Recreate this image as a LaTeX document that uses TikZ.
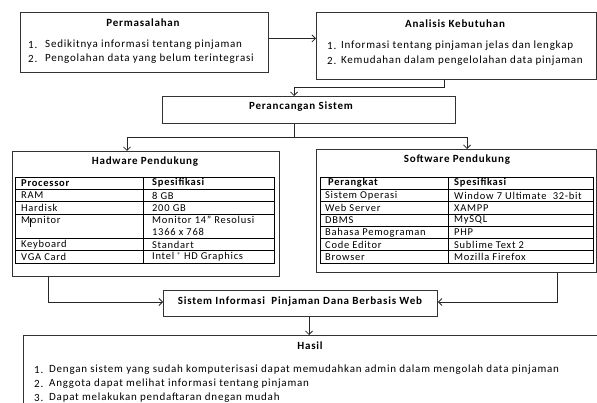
\documentclass[tikz,border=0pt]{standalone}
\usepackage{fontspec}
\setmainfont{Carlito}[LetterSpace=7]
\usetikzlibrary{arrows.meta}
\begin{document}
\begin{tikzpicture}[x=1pt,y=-1pt,
  panel/.style={draw=black!80,line width=0.9pt,rectangle,inner sep=0pt,anchor=north west},
  link/.style={draw=black!85,line width=0.8pt,-{Straight Barb[length=3.5pt,width=7pt]}},
  plain/.style={draw=black!85,line width=0.8pt},
  head/.style={font=\bfseries\fontsize{11}{13}\selectfont,inner sep=0pt},
  txt/.style={font=\fontsize{11}{13}\selectfont,inner sep=0pt,anchor=west},
  cell/.style={font=\fontsize{10.5}{13}\selectfont,inner sep=0pt,anchor=west},
  hcell/.style={font=\bfseries\fontsize{10.5}{13}\selectfont,inner sep=0pt,anchor=west},
  grid/.style={draw=black,line width=0.7pt}]
\useasboundingbox (0,0) rectangle (597,403);
\clip (0,0) rectangle (597,403);

% ---------- boxes ----------
\node[panel,minimum width=248pt,minimum height=60pt] (perm) at (20,12) {};
\node[panel,minimum width=280pt,minimum height=67pt] (anal) at (316,12) {};
\node[panel,minimum width=293pt,minimum height=27pt] (peran) at (162,96) {};
\node[panel,minimum width=267pt,minimum height=125pt] (hw) at (12,151) {};
\node[panel,minimum width=280pt,minimum height=123pt] (sw) at (316,149) {};
\node[panel,minimum width=274pt,minimum height=26pt] (sis) at (163,290) {};
\node[panel,minimum width=580pt,minimum height=80pt] (hasil) at (23,335) {};

% ---------- Permasalahan ----------
\node[head] (permT) at (143,23) {Permasalahan};
\node[txt] (permN1) at (28,45) {1.};
\node[txt] (permI1) at (45,45) {Sedikitnya informasi tentang pinjaman};
\node[txt] (permN2) at (28,59) {2.};
\node[txt] (permI2) at (45,59) {Pengolahan data yang belum terintegrasi};

% ---------- Analisis Kebutuhan ----------
\node[head] (analT) at (455,24) {Analisis Kebutuhan};
\node[txt] (analN1) at (327,46) {1.};
\node[txt] (analI1) at (341,46) {Informasi tentang pinjaman jelas dan lengkap};
\node[txt] (analN2) at (327,61) {2.};
\node[txt] (analI2) at (341,61) {Kemudahan dalam pengelolahan data pinjaman};

% ---------- Perancangan ----------
\node[head] (peranT) at (301,107) {Perancangan Sistem};

% ---------- Hardware ----------
\node[head] (hwT) at (145,162) {Hadware Pendukung};
\draw[grid] (15,177) rectangle (274,263);
\draw[grid] (143,177) -- (143,263);
\foreach \yy in {189.3,201.6,213.9,238.4,250.7} \draw[grid] (15,\yy) -- (274,\yy);
\node[hcell] (hwH1) at (21,183) {Processor};
\node[hcell] (hwH2) at (152,183) {Spesifikasi};
\node[cell] (hwA1) at (21,195.5) {RAM};
\node[cell] (hwA2) at (152,195.5) {8 GB};
\node[cell] (hwB1) at (21,207.8) {Hardisk};
\node[cell] (hwB2) at (152,207.8) {200 GB};
\node[cell] (hwC1) at (21,220.1) {Monitor};
\node[cell] (hwC2) at (152,220.1) {Monitor 14” Resolusi};
\node[cell] (hwC3) at (152,232.4) {1366 x 768};
\node[cell] (hwD1) at (21,244.6) {Keyboard};
\node[cell] (hwD2) at (152,244.6) {Standart};
\node[cell] (hwE1) at (21,256.9) {VGA Card};
\node[cell] (hwE2) at (152,256.9) {Intel \raisebox{2.5pt}{\fontsize{7}{7}\selectfont ®} HD Graphics};
\draw[black,line width=0.9pt] (30,218) -- (30,227);

% ---------- Software ----------
\node[head] (swT) at (457,160) {Software Pendukung};
\draw[grid] (320,177) rectangle (593,263);
\draw[grid] (448,177) -- (448,263);
\foreach \yy in {189.3,201.6,213.9,226.1,238.4,250.7} \draw[grid] (320,\yy) -- (593,\yy);
\node[hcell] (swH1) at (328,183) {Perangkat};
\node[hcell] (swH2) at (454,183) {Spesifikasi};
\node[cell] (swA1) at (325,195.5) {Sistem Operasi};
\node[cell] (swA2) at (454,195.5) {Window 7 Ultimate\ \ 32-bit};
\node[cell] (swB1) at (325,207.8) {Web Server};
\node[cell] (swB2) at (454,207.8) {XAMPP};
\node[cell] (swC1) at (325,220.1) {DBMS};
\node[cell] (swC2) at (454,220.1) {MySQL};
\node[cell] (swD1) at (325,232.4) {Bahasa Pemograman};
\node[cell] (swD2) at (454,232.4) {PHP};
\node[cell] (swE1) at (325,244.6) {Code Editor};
\node[cell] (swE2) at (454,244.6) {Sublime Text 2};
\node[cell] (swF1) at (325,256.9) {Browser};
\node[cell] (swF2) at (454,256.9) {Mozilla Firefox};

% ---------- Sistem ----------
\node[head] (sisT) at (300,302) {Sistem Informasi\ \ Pinjaman Dana Berbasis Web};

% ---------- Hasil ----------
\node[head] (hasilT) at (310,346) {Hasil};
\node[txt] (hasN1) at (34,370) {1.};
\node[txt] (hasI1) at (49,370) {Dengan sistem yang sudah komputerisasi dapat memudahkan admin dalam mengolah data pinjaman};
\node[txt] (hasN2) at (34,384) {2.};
\node[txt] (hasI2) at (49,384) {Anggota dapat melihat informasi tentang pinjaman};
\node[txt] (hasN3) at (34,398) {3.};
\node[txt] (hasI3) at (49,398) {Dapat melakukan pendaftaran dnegan mudah};

% ---------- connectors ----------
\coordinate (k1) at (444,87);
\coordinate (k2) at (294,87);
\coordinate (k3) at (294,137);
\coordinate (k4) at (127,137);
\coordinate (k5) at (467,137);
\coordinate (k6) at (48,302);
\coordinate (k7) at (557,302);
\coordinate (k8) at (309,316);

\draw[link] ([yshift=4pt]perm.east) -- ([yshift=4pt]perm.east -| anal.west);
\draw[link] (k1 |- anal.south) -- (k1) -- (k2) -- (k2 |- peran.north);
\draw[plain] (k3 |- peran.south) -- (k3);
\draw[link] (k3) -- (k4) -- (k4 |- hw.north);
\draw[link] (k3) -- (k5) -- (k5 |- sw.north);
\draw[link] (k6 |- hw.south) -- (k6) -- (k6 -| sis.west);
\draw[link] (k7 |- sw.south) -- (k7) -- (k7 -| sis.east);
\draw[link] (k8 |- sis.south) -- (k8 |- hasil.north);
\end{tikzpicture}
\end{document}
